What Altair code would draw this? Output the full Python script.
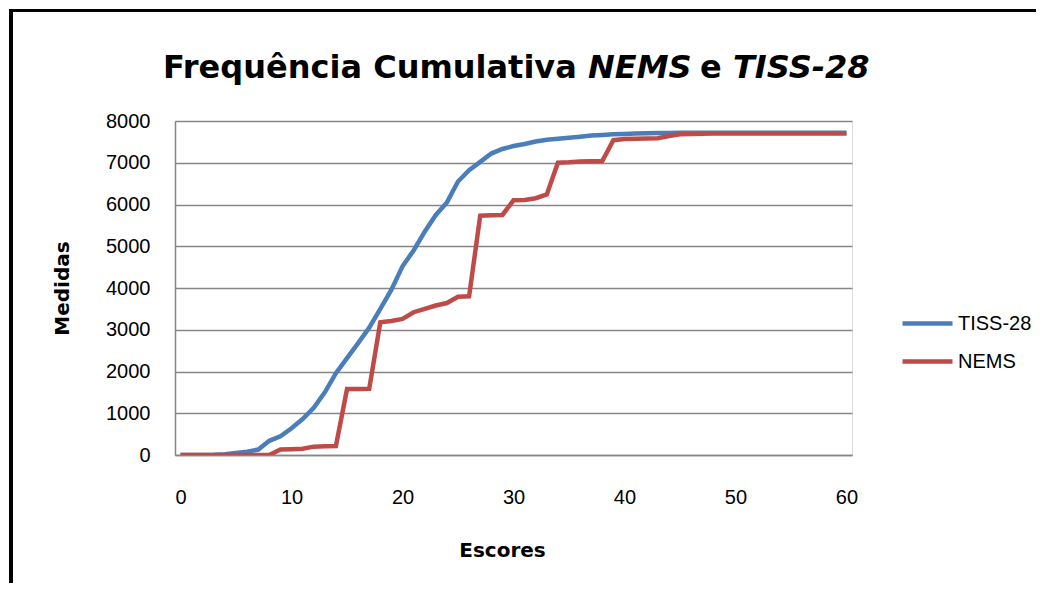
import altair as alt
import pandas as pd

scores = list(range(61))
tiss = [0, 0, 0, 5, 20, 50, 80, 130, 340, 450, 640, 860, 1130, 1500, 1960, 2320,
        2680, 3050, 3500, 3960, 4520, 4900, 5350, 5750, 6050, 6550, 6820, 7020, 7220,
        7330, 7400, 7450, 7510, 7550, 7575, 7600, 7625, 7650, 7665, 7680, 7690, 7700,
        7705, 7710, 7715, 7720, 7720, 7720, 7720, 7720, 7720, 7720, 7720, 7720, 7720,
        7720, 7720, 7720, 7720, 7720, 7720]
nems = [0, 0, 0, 0, 0, 0, 0, 0, 0, 130, 140, 150, 200, 210, 215, 1580, 1580, 1585,
        3180, 3210, 3260, 3420, 3500, 3580, 3640, 3790, 3800, 5730, 5740, 5750, 6100,
        6110, 6150, 6240, 7000, 7010, 7030, 7035, 7040, 7540, 7570, 7575, 7580, 7585,
        7640, 7680, 7690, 7695, 7700, 7700, 7700, 7700, 7700, 7700, 7700, 7700, 7700,
        7700, 7700, 7700, 7700]
series_names = ["TISS-28", "NEMS"]
series_colors = ["#4A7EBB", "#BE4B48"]
x_ticks = [0, 10, 20, 30, 40, 50, 60]
y_ticks = [0, 1000, 2000, 3000, 4000, 5000, 6000, 7000, 8000]
title_parts = ["Frequência Cumulativa", "NEMS", "e", "TISS-28"]
title_italic = ["normal", "italic", "normal", "italic"]
title_left = [163, 588, 700, 733]

rows = []
for name, vals in zip(series_names, [tiss, nems]):
    for s, v in zip(scores, vals):
        rows.append({"Escore": s, "Medidas": v, "Serie": name})
df = pd.DataFrame(rows)

W, H = 677, 334

lines = alt.Chart(df).mark_line(strokeWidth=4.5, clip=True).encode(
    x=alt.X("Escore:Q",
            scale=alt.Scale(domain=[-0.5, 60.5], nice=False, zero=False),
            axis=alt.Axis(values=x_ticks, title="Escores", grid=False, ticks=False,
                          labelPadding=32, labelFontSize=20, labelFont="Liberation Sans",
                          labelColor="black", domainColor="#868686", domainWidth=1.5,
                          titleFont="DejaVu Sans", titleFontSize=20, titleFontWeight="bold",
                          titleColor="black", titleX=327, titleY=95, titleBaseline="middle",
                          titleAlign="center")),
    y=alt.Y("Medidas:Q",
            scale=alt.Scale(domain=[0, 8000], nice=False),
            axis=alt.Axis(values=y_ticks, format="d", title="Medidas", grid=True,
                          gridColor="#868686", gridWidth=1.5, ticks=False, labelPadding=25,
                          labelFontSize=20, labelFont="Liberation Sans", labelColor="black",
                          domainColor="#868686", domainWidth=1.5,
                          titleFont="DejaVu Sans", titleFontSize=20, titleFontWeight="bold",
                          titleColor="black", titleAngle=-90, titleX=-113, titleY=167,
                          titleBaseline="middle", titleAlign="center")),
    color=alt.Color("Serie:N",
                    scale=alt.Scale(domain=series_names, range=series_colors),
                    sort=series_names,
                    legend=alt.Legend(title=None, orient="none", legendX=725, legendY=175,
                                      symbolType="stroke", symbolSize=2500,
                                      symbolStrokeWidth=4.5, labelFontSize=20,
                                      labelFont="Liberation Sans", labelColor="black",
                                      labelOffset=3, rowPadding=0)),
    order=alt.Order("Serie:N", sort="descending"),
)

title_layers = []
for t, st, px in zip(title_parts, title_italic, title_left):
    title_layers.append(
        alt.Chart(pd.DataFrame({"t": [t]})).mark_text(
            font="DejaVu Sans", fontSize=32, fontWeight="bold", fontStyle=st,
            align="left", baseline="alphabetic", color="black"
        ).encode(text="t:N", x=alt.value(px - 175), y=alt.value(-43))
    )

frame_left = alt.Chart(pd.DataFrame({"a": [0]})).mark_rule(
    color="black", strokeWidth=4).encode(
    x=alt.value(-164), y=alt.value(-112), y2=alt.value(480))
frame_top = alt.Chart(pd.DataFrame({"a": [0]})).mark_rule(
    color="black", strokeWidth=3).encode(
    x=alt.value(-166), x2=alt.value(880), y=alt.value(-110.5))

chart = alt.layer(frame_left, frame_top, lines, *title_layers).properties(
    width=W, height=H,
    autosize=alt.AutoSizeParams(type="none"),
    padding={"left": 167, "top": 113, "right": 184, "bottom": 128},
).configure_view(stroke="black", strokeWidth=1.5).configure(background="white")

chart.save("out.html", embed_options={"renderer": "svg", "actions": False})
